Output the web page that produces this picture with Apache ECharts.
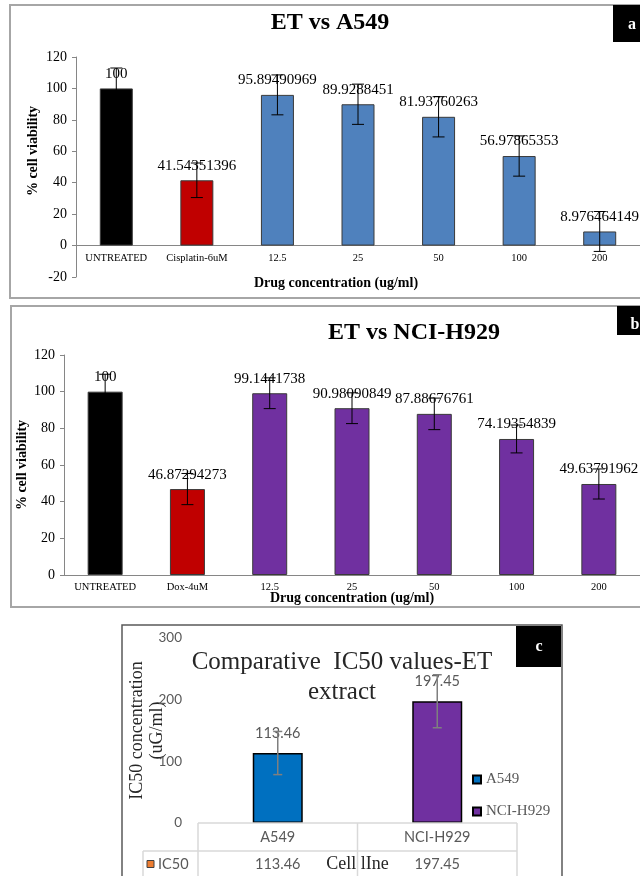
<!DOCTYPE html>
<html><head><meta charset="utf-8">
<script src="https://cdn.jsdelivr.net/npm/echarts@6/dist/echarts.min.js"></script>
<style>html,body{margin:0;padding:0;background:#fff;}#main{width:640px;height:876px;}</style>
</head><body><div id="main"></div>
<script>
// ---------- DATA ----------
const categoriesA = ['UNTREATED', 'Cisplatin-6uM', '12.5', '25', '50', '100', '200'];
const valuesA = [100, 41.54351396, 95.89490969, 89.9288451, 81.93760263, 56.97865353, 8.976464149];
const errorsA = [13, 11, 12.7, 12.8, 12.8, 12.8, 12.7];

const categoriesB = ['UNTREATED', 'Dox-4uM', '12.5', '25', '50', '100', '200'];
const valuesB = [100, 46.87294273, 99.1441738, 90.98090849, 87.88676761, 74.19354839, 49.63791962];
const errorsB = [9.5, 8.5, 8.4, 8.4, 8.6, 7.6, 8.2];

const categoriesC = ['A549', 'NCI-H929'];
const valuesC = [113.46, 197.45];
const errorsC = [35, 43];
const tableSeriesName = 'IC50';

const titleA = 'ET vs A549';
const titleB = 'ET vs NCI-H929';
const titleC = 'Comparative  IC50 values-ET\nextract';

// ---------- STYLE ----------
const SERIF = '"Liberation Serif", "Times New Roman", serif';
const SANS = 'Lato, "Liberation Sans", sans-serif';
const colorsA = ['#000000', '#c00000', '#4f81bd', '#4f81bd', '#4f81bd', '#4f81bd', '#4f81bd'];
const colorsB = ['#000000', '#c00000', '#7030a0', '#7030a0', '#7030a0', '#7030a0', '#7030a0'];
const colorsC = ['#0070c0', '#7030a0'];

const G = [
  { left: 76, top: 57, width: 574, height: 220 },
  { left: 64, top: 355, width: 588, height: 220 },
  { left: 198, top: 638, width: 319, height: 185 }
];
const yMinA = -20, yMaxA = 120;
// x axis of panel A sits at value 0: shift it up from grid bottom
const offsetA = -G[0].height * (0 - yMinA) / (yMaxA - yMinA);

function errRender(color, cap, lw) {
  return function (params, api) {
    const x = api.value(0), v = api.value(1), e = api.value(2);
    const top = api.coord([x, v + e]);
    const bot = api.coord([x, v - e]);
    const h = cap / 2;
    const st = { stroke: color, lineWidth: lw };
    return {
      type: 'group',
      children: [
        { type: 'line', shape: { x1: top[0], y1: top[1], x2: bot[0], y2: bot[1] }, style: st },
        { type: 'line', shape: { x1: top[0] - h, y1: top[1], x2: top[0] + h, y2: top[1] }, style: st },
        { type: 'line', shape: { x1: bot[0] - h, y1: bot[1], x2: bot[0] + h, y2: bot[1] }, style: st }
      ]
    };
  };
}

function valueAxis(gi, min, max, interval, name, gap, pad) {
  return {
    type: 'value', gridIndex: gi, min: min, max: max, interval: interval,
    axisLine: { show: true, lineStyle: { color: '#868686', width: 1 } },
    axisTick: { show: true, length: 4, lineStyle: { color: '#868686' } },
    splitLine: { show: false },
    axisLabel: { fontFamily: SERIF, fontSize: 14, color: '#000', margin: 9 },
    name: name, nameLocation: 'middle', nameGap: gap, nameMoveOverlap: false,
    nameTextStyle: { fontFamily: SERIF, fontSize: 14, fontWeight: 'bold', color: '#000', padding: pad }
  };
}

function catAxis(gi, cats, name, gap, pad, offset) {
  return {
    type: 'category', gridIndex: gi, data: cats, position: 'bottom', offset: offset,
    axisLine: { onZero: false, lineStyle: { color: '#868686', width: 1 } },
    axisTick: { show: false },
    axisLabel: { interval: 0, fontFamily: SERIF, fontSize: 10.5, color: '#000', margin: 7 },
    name: name, nameLocation: 'middle', nameGap: gap, nameMoveOverlap: false,
    nameTextStyle: { fontFamily: SERIF, fontSize: 14, fontWeight: 'bold', color: '#000', padding: pad }
  };
}

function barLabel(fs, color, dist, fam) {
  return { show: true, position: 'top', distance: dist, fontFamily: fam, fontSize: fs, color: color };
}

function txt(x, y, text, font, fill, align) {
  return {
    type: 'text', x: x, y: y, silent: true,
    style: { text: text, font: font, fill: fill, textAlign: align || 'center', textVerticalAlign: 'middle',
             align: align || 'center', verticalAlign: 'middle' }
  };
}
function rect(x, y, w, h, style) {
  return { type: 'rect', shape: { x: x, y: y, width: w, height: h }, style: style, silent: true };
}
function ln(x1, y1, x2, y2, color, lw) {
  return { type: 'line', shape: { x1: x1, y1: y1, x2: x2, y2: y2 }, style: { stroke: color, lineWidth: lw }, silent: true, z: 10 };
}

// table for panel C
const gc = G[2];
const colW = gc.width / categoriesC.length;
const tTop = gc.top + gc.height, tMid = tTop + 28, tBot = tMid + 30;
const tableEls = [];
tableEls.push(ln(gc.left, tTop, gc.left + gc.width, tTop, '#d9d9d9', 1.5));
tableEls.push(ln(gc.left - 55, tMid, gc.left + gc.width, tMid, '#d9d9d9', 1.5));
tableEls.push(ln(gc.left - 55, tMid, gc.left - 55, tBot, '#d9d9d9', 1.5));
for (let i = 0; i <= categoriesC.length; i++) {
  tableEls.push(ln(gc.left + i * colW, tTop, gc.left + i * colW, tBot, '#d9d9d9', 1.5));
}
categoriesC.forEach((c, i) => {
  const cx = gc.left + (i + 0.5) * colW;
  tableEls.push(txt(cx, (tTop + tMid) / 2, c, '14.5px ' + SANS, '#595959'));
  tableEls.push(txt(cx, tMid + 13, String(valuesC[i]), '14.5px ' + SANS, '#595959'));
});
tableEls.push(rect(gc.left - 51, tMid + 9.5, 7, 7, { fill: '#ed7d31', stroke: '#404040', lineWidth: 1 }));
tableEls.push(txt(gc.left - 40, tMid + 13, tableSeriesName, '14.5px ' + SANS, '#595959', 'left'));

const titleCEl = txt(342, 677, titleC, '25px ' + SERIF, '#262626');
titleCEl.style.lineHeight = 30;

const graphics = [
  rect(10, 5, 700, 293, { fill: 'none', stroke: '#a6a6a6', lineWidth: 2 }),
  rect(11, 306, 700, 301, { fill: 'none', stroke: '#a6a6a6', lineWidth: 2 }),
  rect(122, 625, 440, 300, { fill: 'none', stroke: '#595959', lineWidth: 1.5 }),
  rect(613, 5, 40, 37, { fill: '#000' }),
  txt(632, 25, 'a', 'bold 16px ' + SERIF, '#fff'),
  rect(617, 306, 40, 29, { fill: '#000' }),
  txt(635, 325, 'b', 'bold 16px ' + SERIF, '#fff'),
  rect(516, 626, 45, 41, { fill: '#000' }),
  txt(539, 647, 'c', 'bold 16px ' + SERIF, '#fff'),
  txt(330, 23, titleA, 'bold 24px ' + SERIF, '#000'),
  txt(414, 333, titleB, 'bold 24px ' + SERIF, '#000'),
  titleCEl
].concat(tableEls);

const option = {
  animation: false,
  backgroundColor: '#ffffff',
  grid: G,
  legend: {
    data: categoriesC, orient: 'vertical', left: 467, top: 767,
    itemWidth: 8, itemHeight: 8, itemGap: 17, icon: 'rect',
    textStyle: { fontFamily: SERIF, fontSize: 15, color: '#595959' }
  },
  xAxis: [
    catAxis(0, categoriesA, 'Drug concentration (ug/ml)', 31, [0, 44, 0, 0], offsetA),
    catAxis(1, categoriesB, 'Drug concentration (ug/ml)', 16, [0, 0, 0, 0], 0),
    {
      type: 'category', gridIndex: 2, data: categoriesC,
      axisLine: { show: false }, axisTick: { show: false }, axisLabel: { show: false },
      name: 'Cell lIne', nameLocation: 'middle', nameGap: 32, nameMoveOverlap: false,
      nameTextStyle: { fontFamily: SERIF, fontSize: 18, color: '#262626' }
    }
  ],
  yAxis: [
    valueAxis(0, yMinA, yMaxA, 20, '% cell viability', 36, [0, 0, 0, 32]),
    valueAxis(1, 0, 120, 20, '% cell viability', 35, [0, 0, 0, 0]),
    {
      type: 'value', gridIndex: 2, min: 0, max: 300, interval: 100,
      axisLine: { show: false }, axisTick: { show: false }, splitLine: { show: false },
      axisLabel: { fontFamily: SANS, fontSize: 13.5, color: '#595959', margin: 16 },
      name: 'IC50 concentration\n(uG/ml)', nameLocation: 'middle', nameGap: 31, nameMoveOverlap: false,
      nameTextStyle: { fontFamily: SERIF, fontSize: 18, color: '#262626', lineHeight: 20 }
    }
  ],
  series: [
    {
      type: 'bar', xAxisIndex: 0, yAxisIndex: 0, barWidth: 33,
      data: valuesA.map((v, i) => ({ value: v, itemStyle: { color: colorsA[i] } })),
      itemStyle: { borderColor: '#3a3a3a', borderWidth: 1 },
      label: barLabel(15, '#000', 7, SERIF)
    },
    {
      type: 'custom', xAxisIndex: 0, yAxisIndex: 0, z: 5,
      renderItem: errRender('#000', 12, 1),
      encode: { x: 0, y: 1 },
      data: valuesA.map((v, i) => [i, v, errorsA[i]])
    },
    {
      type: 'bar', xAxisIndex: 1, yAxisIndex: 1, barWidth: 35,
      data: valuesB.map((v, i) => ({ value: v, itemStyle: { color: colorsB[i] } })),
      itemStyle: { borderColor: '#3a3a3a', borderWidth: 1 },
      label: barLabel(15, '#000', 7, SERIF)
    },
    {
      type: 'custom', xAxisIndex: 1, yAxisIndex: 1, z: 5,
      renderItem: errRender('#000', 12, 1),
      encode: { x: 0, y: 1 },
      data: valuesB.map((v, i) => [i, v, errorsB[i]])
    }
  ].concat(categoriesC.map((c, i) => ({
    type: 'bar', name: c, xAxisIndex: 2, yAxisIndex: 2, barWidth: 50, barGap: '-100%',
    data: categoriesC.map((_, j) => (j === i ? valuesC[i] : '-')),
    itemStyle: { color: colorsC[i], borderColor: '#000', borderWidth: 1.5 },
    label: barLabel(14.5, '#595959', 12, SANS)
  }))).concat([
    {
      type: 'custom', xAxisIndex: 2, yAxisIndex: 2, z: 5,
      renderItem: errRender('#7f7f7f', 9, 1.5),
      encode: { x: 0, y: 1 },
      data: valuesC.map((v, i) => [i, v, errorsC[i]])
    }
  ]),
  graphic: { elements: graphics }
};

const chart = echarts.init(document.getElementById('main'), null, { renderer: 'canvas' });
chart.setOption(option);
</script>
</body></html>
